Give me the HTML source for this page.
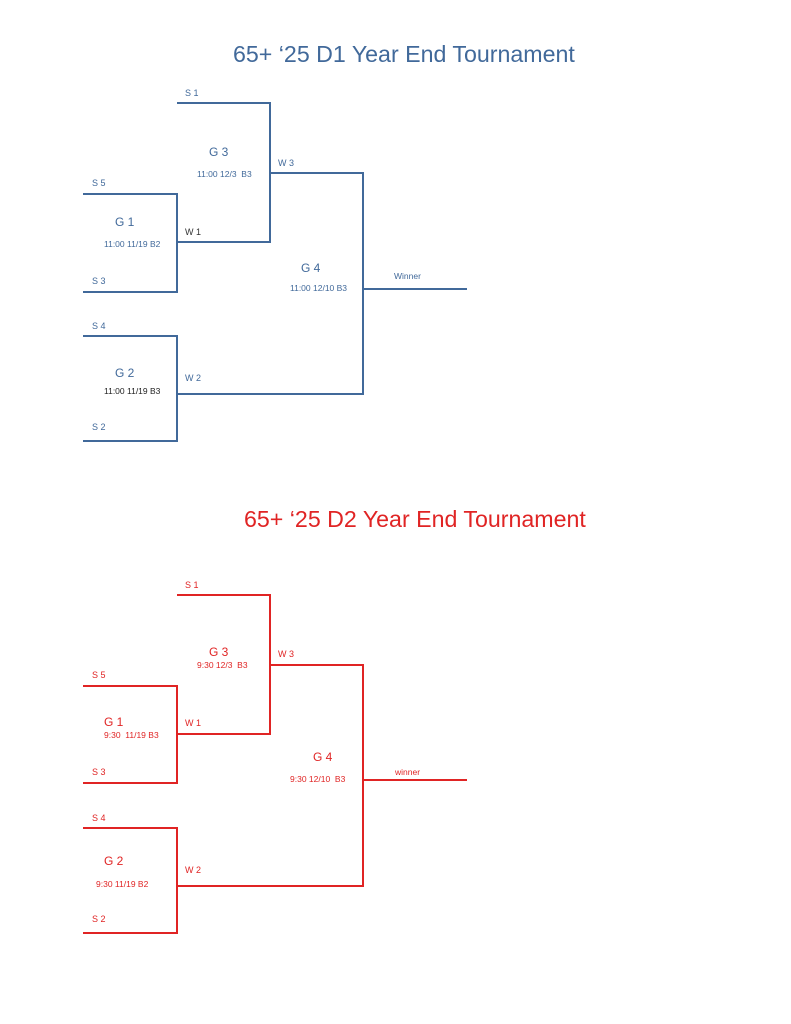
<!DOCTYPE html>
<html><head><meta charset="utf-8"><style>
html,body{margin:0;padding:0;background:#fff;}
svg{display:block;}
text{font-family:"Liberation Sans",sans-serif;white-space:pre;}
</style></head><body>
<svg width="791" height="1024" viewBox="0 0 791 1024" xmlns="http://www.w3.org/2000/svg" xml:space="preserve">
<rect width="791" height="1024" fill="#fff"/>
<g stroke="#41699a" stroke-width="2" fill="none">
<polyline points="177,103 270,103 270,242 177,242"/>
<polyline points="83,194 177,194 177,292 83,292"/>
<polyline points="83,336 177,336 177,441 83,441"/>
<polyline points="270,173 363,173 363,394 177,394"/>
<line x1="363" y1="289" x2="467" y2="289"/>
</g>
<g fill="#41699a">
<text x="233" y="62" font-size="23.2">65+ ‘25 D1 Year End Tournament</text>
<text x="185" y="96" font-size="9">S 1</text>
<text x="92" y="186" font-size="9">S 5</text>
<text x="92" y="284" font-size="9">S 3</text>
<text x="92" y="329" font-size="9">S 4</text>
<text x="92" y="430" font-size="9">S 2</text>
<text x="278" y="166" font-size="9">W 3</text>
<text x="185" y="235" font-size="9" fill="#333">W 1</text>
<text x="185" y="381" font-size="9">W 2</text>
<text x="209" y="156" font-size="12">G 3</text>
<text x="197" y="177" font-size="8.5">11:00 12/3  B3</text>
<text x="115" y="226" font-size="12">G 1</text>
<text x="104" y="247" font-size="8.5">11:00 11/19 B2</text>
<text x="115" y="377" font-size="12">G 2</text>
<text x="104" y="394" font-size="8.5" fill="#222">11:00 11/19 B3</text>
<text x="301" y="272" font-size="12">G 4</text>
<text x="290" y="291" font-size="8.5">11:00 12/10 B3</text>
<text x="394" y="279" font-size="8.5">Winner</text>
</g>
<g stroke="#e02424" stroke-width="2" fill="none">
<polyline points="177,595 270,595 270,734 177,734"/>
<polyline points="83,686 177,686 177,783 83,783"/>
<polyline points="83,828 177,828 177,933 83,933"/>
<polyline points="270,665 363,665 363,886 177,886"/>
<line x1="363" y1="780" x2="467" y2="780"/>
</g>
<g fill="#e02424">
<text x="244" y="527" font-size="23.2">65+ ‘25 D2 Year End Tournament</text>
<text x="185" y="588" font-size="9">S 1</text>
<text x="92" y="678" font-size="9">S 5</text>
<text x="92" y="775" font-size="9">S 3</text>
<text x="92" y="821" font-size="9">S 4</text>
<text x="92" y="922" font-size="9">S 2</text>
<text x="278" y="657" font-size="9">W 3</text>
<text x="185" y="726" font-size="9">W 1</text>
<text x="185" y="873" font-size="9">W 2</text>
<text x="209" y="656" font-size="12">G 3</text>
<text x="197" y="668" font-size="8.5">9:30 12/3  B3</text>
<text x="104" y="726" font-size="12">G 1</text>
<text x="104" y="738" font-size="8.5">9:30  11/19 B3</text>
<text x="104" y="865" font-size="12">G 2</text>
<text x="96" y="887" font-size="8.5">9:30 11/19 B2</text>
<text x="313" y="761" font-size="12">G 4</text>
<text x="290" y="782" font-size="8.5">9:30 12/10  B3</text>
<text x="395" y="775" font-size="8.5">winner</text>
</g>
</svg>
</body></html>
